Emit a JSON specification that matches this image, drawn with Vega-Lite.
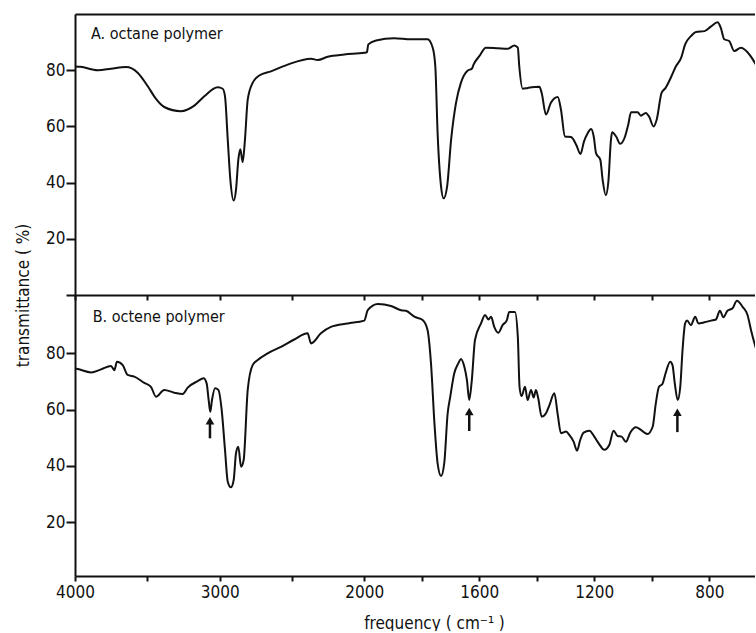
{
  "$schema": "https://vega.github.io/schema/vega-lite/v6.json",
  "padding": {"left": 14, "top": 14, "right": 0, "bottom": 0},
  "background": "white",
  "bounds": "flush",
  "spacing": 0,
  "config": {
    "view": {"stroke": null},
    "font": "Liberation Sans Narrow, DejaVu Sans Condensed, sans-serif",
    "axis": {
      "grid": false,
      "domainColor": "#111",
      "domainWidth": 2,
      "tickColor": "#111",
      "tickWidth": 2,
      "labelColor": "#111",
      "titleColor": "#111",
      "labelFont": "Liberation Sans Narrow, DejaVu Sans Condensed, sans-serif",
      "titleFont": "Liberation Sans Narrow, DejaVu Sans Condensed, sans-serif",
      "labelFontSize": 17,
      "titleFontSize": 17,
      "titleFontWeight": "normal",
      "labelFlush": false,
      "labelOverlap": false,
      "labelBound": false
    },
    "text": {"font": "Liberation Sans Narrow, DejaVu Sans Condensed, sans-serif"}
  },
  "datasets": {
    "specA": [
      {"wavenumber": 4000, "t": 81.3}, {"wavenumber": 3963, "t": 81.2}, {"wavenumber": 3843, "t": 80.0},
      {"wavenumber": 3751, "t": 80.5}, {"wavenumber": 3647, "t": 81.1}, {"wavenumber": 3567, "t": 79.1},
      {"wavenumber": 3497, "t": 74.3}, {"wavenumber": 3440, "t": 69.8}, {"wavenumber": 3383, "t": 66.9},
      {"wavenumber": 3268, "t": 65.4}, {"wavenumber": 3175, "t": 67.4}, {"wavenumber": 3106, "t": 70.7},
      {"wavenumber": 3013, "t": 73.9}, {"wavenumber": 2979, "t": 73.4}, {"wavenumber": 2963, "t": 70.7},
      {"wavenumber": 2944, "t": 55.3}, {"wavenumber": 2926, "t": 41.0}, {"wavenumber": 2903, "t": 33.6},
      {"wavenumber": 2887, "t": 37.4}, {"wavenumber": 2871, "t": 48.1}, {"wavenumber": 2857, "t": 51.9},
      {"wavenumber": 2841, "t": 47.3}, {"wavenumber": 2825, "t": 55.3}, {"wavenumber": 2806, "t": 69.5},
      {"wavenumber": 2772, "t": 75.5}, {"wavenumber": 2726, "t": 78.1}, {"wavenumber": 2645, "t": 79.6},
      {"wavenumber": 2530, "t": 82.0}, {"wavenumber": 2368, "t": 84.1}, {"wavenumber": 2322, "t": 83.6},
      {"wavenumber": 2253, "t": 84.8}, {"wavenumber": 2138, "t": 85.6}, {"wavenumber": 2000, "t": 86.2},
      {"wavenumber": 1991, "t": 86.4}, {"wavenumber": 1986, "t": 89.2}, {"wavenumber": 1959, "t": 90.6},
      {"wavenumber": 1896, "t": 91.4}, {"wavenumber": 1838, "t": 91.0}, {"wavenumber": 1780, "t": 91.0},
      {"wavenumber": 1762, "t": 88.0}, {"wavenumber": 1753, "t": 81.4}, {"wavenumber": 1745, "t": 57.6},
      {"wavenumber": 1733, "t": 38.6}, {"wavenumber": 1724, "t": 34.4}, {"wavenumber": 1712, "t": 38.6},
      {"wavenumber": 1698, "t": 55.3}, {"wavenumber": 1681, "t": 68.4}, {"wavenumber": 1664, "t": 75.5},
      {"wavenumber": 1640, "t": 79.9}, {"wavenumber": 1626, "t": 80.5}, {"wavenumber": 1620, "t": 82.0},
      {"wavenumber": 1600, "t": 85.0}, {"wavenumber": 1577, "t": 88.0}, {"wavenumber": 1536, "t": 87.8},
      {"wavenumber": 1501, "t": 87.6}, {"wavenumber": 1478, "t": 88.8}, {"wavenumber": 1466, "t": 88.0},
      {"wavenumber": 1461, "t": 81.4}, {"wavenumber": 1449, "t": 73.4}, {"wavenumber": 1431, "t": 73.7},
      {"wavenumber": 1391, "t": 74.1}, {"wavenumber": 1383, "t": 71.9}, {"wavenumber": 1368, "t": 64.2},
      {"wavenumber": 1351, "t": 68.4}, {"wavenumber": 1327, "t": 70.5}, {"wavenumber": 1316, "t": 66.0},
      {"wavenumber": 1302, "t": 56.4}, {"wavenumber": 1281, "t": 56.2}, {"wavenumber": 1263, "t": 53.5},
      {"wavenumber": 1248, "t": 50.2}, {"wavenumber": 1236, "t": 54.6}, {"wavenumber": 1223, "t": 57.6},
      {"wavenumber": 1211, "t": 59.1}, {"wavenumber": 1202, "t": 56.4}, {"wavenumber": 1194, "t": 50.5},
      {"wavenumber": 1179, "t": 48.1}, {"wavenumber": 1171, "t": 41.0}, {"wavenumber": 1160, "t": 35.5},
      {"wavenumber": 1151, "t": 40.4}, {"wavenumber": 1142, "t": 55.3}, {"wavenumber": 1138, "t": 57.9},
      {"wavenumber": 1124, "t": 56.4}, {"wavenumber": 1110, "t": 53.8}, {"wavenumber": 1093, "t": 56.4},
      {"wavenumber": 1082, "t": 60.6}, {"wavenumber": 1072, "t": 65.0}, {"wavenumber": 1049, "t": 65.0},
      {"wavenumber": 1038, "t": 63.8}, {"wavenumber": 1021, "t": 64.8}, {"wavenumber": 1009, "t": 63.4},
      {"wavenumber": 994, "t": 60.0}, {"wavenumber": 983, "t": 62.4}, {"wavenumber": 966, "t": 71.9},
      {"wavenumber": 952, "t": 73.7}, {"wavenumber": 934, "t": 77.3}, {"wavenumber": 916, "t": 81.4},
      {"wavenumber": 898, "t": 84.4}, {"wavenumber": 884, "t": 89.2}, {"wavenumber": 864, "t": 92.1},
      {"wavenumber": 846, "t": 93.6}, {"wavenumber": 817, "t": 93.9}, {"wavenumber": 795, "t": 95.5},
      {"wavenumber": 771, "t": 97.1}, {"wavenumber": 760, "t": 95.1}, {"wavenumber": 748, "t": 91.0},
      {"wavenumber": 731, "t": 90.4}, {"wavenumber": 713, "t": 86.8}, {"wavenumber": 690, "t": 88.0},
      {"wavenumber": 667, "t": 86.4}, {"wavenumber": 638, "t": 82.0}, {"wavenumber": 630, "t": 80.5}
    ],
    "specB": [
      {"wavenumber": 4000, "t": 74.6}, {"wavenumber": 3981, "t": 74.4}, {"wavenumber": 3889, "t": 73.2},
      {"wavenumber": 3820, "t": 74.3}, {"wavenumber": 3751, "t": 75.5}, {"wavenumber": 3728, "t": 74.0},
      {"wavenumber": 3710, "t": 77.0}, {"wavenumber": 3670, "t": 75.8}, {"wavenumber": 3636, "t": 72.3},
      {"wavenumber": 3590, "t": 71.7}, {"wavenumber": 3521, "t": 69.5}, {"wavenumber": 3475, "t": 68.1},
      {"wavenumber": 3440, "t": 64.6}, {"wavenumber": 3383, "t": 67.0}, {"wavenumber": 3314, "t": 66.0},
      {"wavenumber": 3256, "t": 65.5}, {"wavenumber": 3221, "t": 67.8}, {"wavenumber": 3152, "t": 70.1},
      {"wavenumber": 3111, "t": 71.1}, {"wavenumber": 3090, "t": 69.3}, {"wavenumber": 3076, "t": 63.4},
      {"wavenumber": 3065, "t": 59.2}, {"wavenumber": 3053, "t": 63.4}, {"wavenumber": 3032, "t": 67.6},
      {"wavenumber": 3009, "t": 67.0}, {"wavenumber": 2986, "t": 59.9}, {"wavenumber": 2963, "t": 45.7},
      {"wavenumber": 2944, "t": 34.4}, {"wavenumber": 2922, "t": 32.4}, {"wavenumber": 2903, "t": 35.0},
      {"wavenumber": 2887, "t": 44.5}, {"wavenumber": 2871, "t": 46.8}, {"wavenumber": 2852, "t": 39.7},
      {"wavenumber": 2834, "t": 42.1}, {"wavenumber": 2806, "t": 67.0}, {"wavenumber": 2772, "t": 75.8},
      {"wavenumber": 2737, "t": 77.6}, {"wavenumber": 2668, "t": 80.0}, {"wavenumber": 2576, "t": 82.3},
      {"wavenumber": 2484, "t": 84.9}, {"wavenumber": 2392, "t": 87.1}, {"wavenumber": 2368, "t": 83.5},
      {"wavenumber": 2300, "t": 87.1}, {"wavenumber": 2231, "t": 89.4}, {"wavenumber": 2115, "t": 90.6},
      {"wavenumber": 2000, "t": 91.6}, {"wavenumber": 1988, "t": 95.3}, {"wavenumber": 1953, "t": 97.5},
      {"wavenumber": 1907, "t": 96.8}, {"wavenumber": 1872, "t": 95.3}, {"wavenumber": 1855, "t": 95.1},
      {"wavenumber": 1826, "t": 93.0}, {"wavenumber": 1797, "t": 91.8}, {"wavenumber": 1780, "t": 88.3},
      {"wavenumber": 1768, "t": 76.4}, {"wavenumber": 1756, "t": 55.1}, {"wavenumber": 1745, "t": 40.9},
      {"wavenumber": 1733, "t": 36.4}, {"wavenumber": 1722, "t": 40.9}, {"wavenumber": 1710, "t": 58.7},
      {"wavenumber": 1701, "t": 64.6}, {"wavenumber": 1687, "t": 72.9}, {"wavenumber": 1673, "t": 76.4},
      {"wavenumber": 1664, "t": 78.0}, {"wavenumber": 1652, "t": 75.2}, {"wavenumber": 1643, "t": 70.5},
      {"wavenumber": 1635, "t": 63.4}, {"wavenumber": 1626, "t": 70.5}, {"wavenumber": 1615, "t": 84.7},
      {"wavenumber": 1594, "t": 90.6}, {"wavenumber": 1580, "t": 93.6}, {"wavenumber": 1568, "t": 92.0},
      {"wavenumber": 1559, "t": 93.0}, {"wavenumber": 1548, "t": 89.4}, {"wavenumber": 1534, "t": 87.3},
      {"wavenumber": 1519, "t": 90.0}, {"wavenumber": 1504, "t": 91.8}, {"wavenumber": 1496, "t": 94.7},
      {"wavenumber": 1476, "t": 94.7}, {"wavenumber": 1466, "t": 85.9}, {"wavenumber": 1460, "t": 68.1},
      {"wavenumber": 1453, "t": 64.8}, {"wavenumber": 1441, "t": 68.1}, {"wavenumber": 1432, "t": 63.4},
      {"wavenumber": 1420, "t": 67.0}, {"wavenumber": 1411, "t": 64.3}, {"wavenumber": 1403, "t": 67.0},
      {"wavenumber": 1395, "t": 64.0}, {"wavenumber": 1383, "t": 57.5}, {"wavenumber": 1368, "t": 58.7},
      {"wavenumber": 1356, "t": 61.6}, {"wavenumber": 1339, "t": 65.8}, {"wavenumber": 1327, "t": 58.1},
      {"wavenumber": 1316, "t": 51.6}, {"wavenumber": 1298, "t": 52.2}, {"wavenumber": 1287, "t": 51.0},
      {"wavenumber": 1272, "t": 48.6}, {"wavenumber": 1260, "t": 45.4}, {"wavenumber": 1249, "t": 49.2},
      {"wavenumber": 1237, "t": 51.8}, {"wavenumber": 1217, "t": 52.5}, {"wavenumber": 1200, "t": 50.4},
      {"wavenumber": 1186, "t": 48.2}, {"wavenumber": 1165, "t": 45.7}, {"wavenumber": 1148, "t": 47.4},
      {"wavenumber": 1133, "t": 52.5}, {"wavenumber": 1119, "t": 50.6}, {"wavenumber": 1105, "t": 50.4},
      {"wavenumber": 1090, "t": 48.6}, {"wavenumber": 1075, "t": 51.8}, {"wavenumber": 1055, "t": 53.7},
      {"wavenumber": 1038, "t": 52.8}, {"wavenumber": 1015, "t": 51.3}, {"wavenumber": 997, "t": 53.9},
      {"wavenumber": 986, "t": 62.2}, {"wavenumber": 975, "t": 68.1}, {"wavenumber": 963, "t": 69.1},
      {"wavenumber": 952, "t": 72.9}, {"wavenumber": 936, "t": 77.0}, {"wavenumber": 928, "t": 75.8},
      {"wavenumber": 920, "t": 69.3}, {"wavenumber": 910, "t": 63.4}, {"wavenumber": 901, "t": 68.1},
      {"wavenumber": 893, "t": 81.2}, {"wavenumber": 884, "t": 90.6}, {"wavenumber": 877, "t": 91.6},
      {"wavenumber": 864, "t": 90.0}, {"wavenumber": 849, "t": 93.0}, {"wavenumber": 838, "t": 90.6},
      {"wavenumber": 817, "t": 91.0}, {"wavenumber": 794, "t": 91.6}, {"wavenumber": 777, "t": 92.0},
      {"wavenumber": 763, "t": 95.1}, {"wavenumber": 751, "t": 92.8}, {"wavenumber": 737, "t": 95.1},
      {"wavenumber": 719, "t": 96.0}, {"wavenumber": 704, "t": 98.7}, {"wavenumber": 684, "t": 96.5},
      {"wavenumber": 667, "t": 93.6}, {"wavenumber": 655, "t": 88.3}, {"wavenumber": 638, "t": 81.8},
      {"wavenumber": 630, "t": 79.0}
    ],
    "arrowsB": [
      {"wavenumber": 3067, "head": 56.0, "lo": 49.8, "hi": 54.9},
      {"wavenumber": 1635, "head": 59.3, "lo": 52.4, "hi": 58.4},
      {"wavenumber": 911, "head": 59.1, "lo": 52.0, "hi": 58.1}
    ],
    "labelA": [{"wavenumber": 3889, "t": 91.0, "label": "A. octane polymer"}],
    "labelB": [{"wavenumber": 3878, "t": 91.2, "label": "B. octene polymer"}]
  },
  "vconcat": [
    {
      "width": 680,
      "height": 281,
      "layer": [
        {
          "data": {"name": "specA"},
          "mark": {"type": "line", "color": "#111", "strokeWidth": 2, "clip": true, "interpolate": "monotone"},
          "encoding": {
            "x": {
              "field": "wavenumber", "type": "quantitative", "title": null,
              "scale": {"type": "linear", "domain": [4000, 2000, 641], "range": [0, 289.3, 680], "nice": false, "zero": false},
              "axis": {"orient": "bottom", "values": [4000, 3500, 3000, 2500, 2000, 1800, 1600, 1400, 1200, 1000, 800], "labels": false, "tickSize": 5}
            },
            "y": {
              "field": "t", "type": "quantitative", "title": "transmittance ( %)",
              "scale": {"domain": [0, 100], "nice": false, "zero": false},
              "axis": {"values": [0, 20, 40, 60, 80], "labelExpr": "datum.value == 0 ? '' : datum.label", "tickSize": 9, "labelPadding": 1, "titleX": -52, "titleY": 281, "titleBaseline": "middle", "titleFontSize": 17}
            }
          }
        },
        {
          "data": {"name": "labelA"},
          "mark": {"type": "text", "align": "left", "baseline": "alphabetic", "fontSize": 16, "color": "#111"},
          "encoding": {
            "x": {
              "field": "wavenumber", "type": "quantitative", "title": null,
              "scale": {"type": "linear", "domain": [4000, 2000, 641], "range": [0, 289.3, 680], "nice": false, "zero": false},
              "axis": {"orient": "top", "ticks": false, "labels": false, "domain": true}
            },
            "y": {"field": "t", "type": "quantitative", "title": "transmittance ( %)"},
            "text": {"field": "label"}
          }
        }
      ],
      "resolve": {"axis": {"x": "independent"}}
    },
    {
      "width": 680,
      "height": 281,
      "layer": [
        {
          "data": {"name": "specB"},
          "mark": {"type": "line", "color": "#111", "strokeWidth": 2, "clip": true, "interpolate": "monotone"},
          "encoding": {
            "x": {
              "field": "wavenumber", "type": "quantitative", "title": "frequency ( cm⁻¹ )",
              "scale": {"type": "linear", "domain": [4000, 2000, 641], "range": [0, 289.3, 680], "nice": false, "zero": false},
              "axis": {
                "orient": "bottom",
                "values": [4000, 3500, 3000, 2500, 2000, 1800, 1600, 1400, 1200, 1000, 800],
                "format": "d",
                "labelExpr": "indexof([4000, 3000, 2000, 1600, 1200, 800], datum.value) >= 0 ? datum.label : ''",
                "tickSize": 5,
                "labelPadding": 3,
                "titleX": 359,
                "titleY": 52,
                "titleBaseline": "alphabetic",
                "titleFontSize": 17
              }
            },
            "y": {
              "field": "t", "type": "quantitative", "title": null,
              "scale": {"domain": [0.9, 100.7], "nice": false, "zero": false},
              "axis": {"values": [20, 40, 60, 80], "tickSize": 9, "labelPadding": 1}
            }
          }
        },
        {
          "data": {"name": "arrowsB"},
          "mark": {"type": "rule", "color": "#111", "strokeWidth": 2.5},
          "encoding": {
            "x": {"field": "wavenumber", "type": "quantitative", "title": "frequency ( cm⁻¹ )"},
            "y": {"field": "lo", "type": "quantitative", "title": null},
            "y2": {"field": "hi"}
          }
        },
        {
          "data": {"name": "arrowsB"},
          "mark": {"type": "point", "shape": "triangle-up", "filled": true, "color": "#111", "size": 75, "opacity": 1},
          "encoding": {
            "x": {"field": "wavenumber", "type": "quantitative", "title": "frequency ( cm⁻¹ )"},
            "y": {"field": "head", "type": "quantitative", "title": null}
          }
        },
        {
          "data": {"name": "labelB"},
          "mark": {"type": "text", "align": "left", "baseline": "alphabetic", "fontSize": 16, "color": "#111"},
          "encoding": {
            "x": {"field": "wavenumber", "type": "quantitative", "title": "frequency ( cm⁻¹ )"},
            "y": {"field": "t", "type": "quantitative", "title": null},
            "text": {"field": "label"}
          }
        }
      ]
    }
  ]
}
